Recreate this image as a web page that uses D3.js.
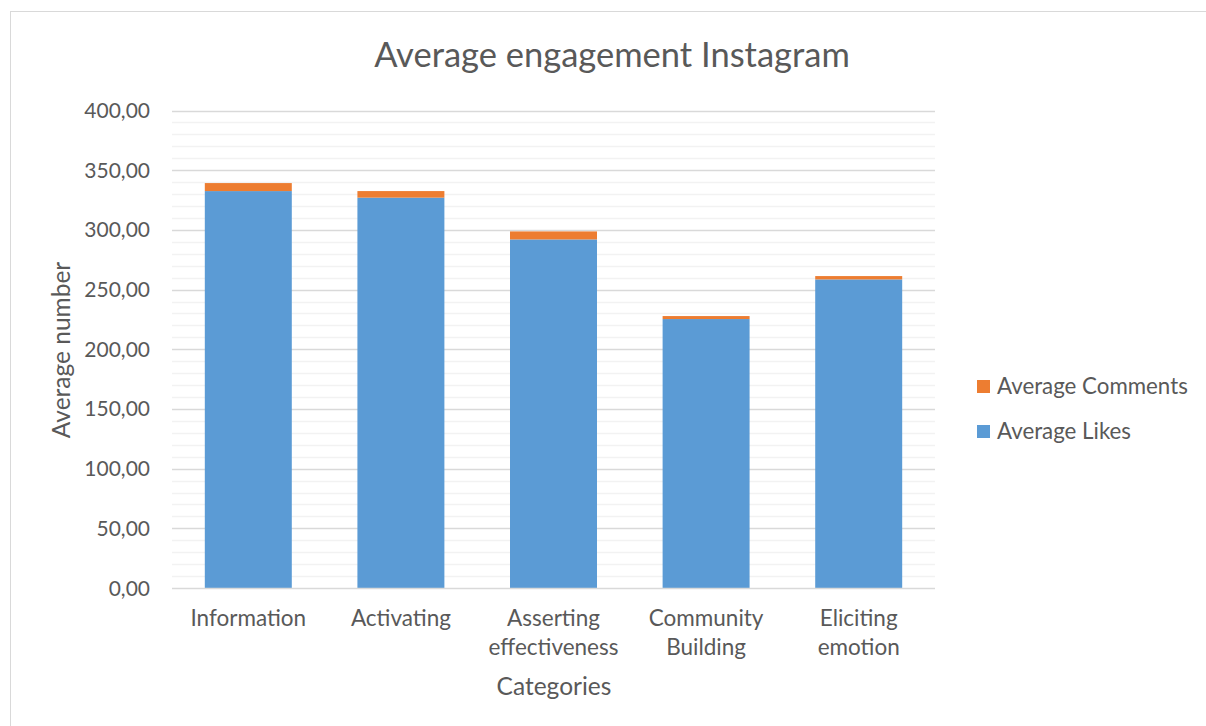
<!DOCTYPE html>
<html><head><meta charset="utf-8">
<script src="https://cdn.jsdelivr.net/npm/d3@7"></script>
<style>body{margin:0;background:#fff}svg{display:block}text{font-family:Lato,"Open Sans",sans-serif;fill:#595959}</style>
</head><body><svg id="c" width="1206" height="726"></svg>
<script>
const categories = [["Information"],["Activating"],["Asserting","effectiveness"],["Community","Building"],["Eliciting","emotion"]];
const categoryKeys = ["Information","Activating","Asserting effectiveness","Community Building","Eliciting emotion"];
const likes = [332.5, 327.0, 292.0, 225.3, 258.5];
const comments = [6.7, 5.5, 6.7, 2.5, 2.8];
const yTicks = [0,50,100,150,200,250,300,350,400];
const seriesNames = ["Average Likes","Average Comments"];
const colors = ["#5b9bd5","#ed7d31"];

const svg = d3.select("#c");
svg.append("rect").attr("x",10.5).attr("y",11.5).attr("width",1200).attr("height",730)
  .attr("fill","#fff").attr("stroke","#d9d9d9").attr("stroke-width",1);

const x = d3.scaleBand().domain(categoryKeys).range([172,935]).paddingInner(0.43).paddingOuter(0.215);
const y = d3.scaleLinear().domain([0,400]).range([588,110.5]);

const minor = d3.range(10,400,10).filter(v=>v%50!==0);
svg.append("g").selectAll("line").data(minor).join("line")
  .attr("x1",172).attr("x2",935).attr("y1",d=>Math.round(y(d))+0.5).attr("y2",d=>Math.round(y(d))+0.5)
  .attr("stroke","#f2f2f2").attr("stroke-width",1.3);
svg.append("g").selectAll("line").data(yTicks.slice(1)).join("line")
  .attr("x1",172).attr("x2",935).attr("y1",d=>Math.round(y(d))+0.5).attr("y2",d=>Math.round(y(d))+0.5)
  .attr("stroke","#d9d9d9").attr("stroke-width",1.3);

const data = categoryKeys.map((k,i)=>({key:k, "Average Likes":likes[i], "Average Comments":comments[i]}));
const stacked = d3.stack().keys(seriesNames)(data);
svg.append("g").selectAll("g").data(stacked).join("g").attr("fill",(d,i)=>colors[i])
  .selectAll("rect").data(d=>d).join("rect")
  .attr("x",d=>x(d.data.key)).attr("width",x.bandwidth())
  .attr("y",d=>y(d[1])).attr("height",d=>y(d[0])-y(d[1]));

svg.append("line").attr("x1",172).attr("x2",935).attr("y1",588.5).attr("y2",588.5).attr("stroke","#d9d9d9").attr("stroke-width",1.3);

const fmt = v => v.toFixed(2).replace(".",",");
svg.append("g").selectAll("text").data(yTicks).join("text")
  .attr("x",150).attr("y",d=>y(d)+7.5).attr("text-anchor","end").style("font-size","21px").text(fmt);

const xl = svg.append("g").selectAll("text").data(categories).join("text")
  .attr("text-anchor","middle").style("font-size","22.5px")
  .attr("transform",(d,i)=>`translate(${x(categoryKeys[i])+x.bandwidth()/2},626)`);
xl.selectAll("tspan").data(d=>d).join("tspan").attr("x",0).attr("dy",(d,i)=>i?29:0).text(d=>d);

svg.append("text").attr("x",612).attr("y",67).attr("text-anchor","middle").style("font-size","34.5px").text("Average engagement Instagram");
svg.append("text").attr("transform","translate(70,350) rotate(-90)").attr("text-anchor","middle").style("font-size","24.5px").text("Average number");
svg.append("text").attr("x",554).attr("y",695).attr("text-anchor","middle").style("font-size","24.5px").text("Categories");

const leg = [["Average Comments",colors[1],386],["Average Likes",colors[0],431]];
leg.forEach(([t,c,cy])=>{
  svg.append("rect").attr("x",977).attr("y",cy-6).attr("width",13).attr("height",13).attr("fill",c);
  svg.append("text").attr("x",997).attr("y",cy+7.5).style("font-size","22.3px").text(t);
});
</script></body></html>
